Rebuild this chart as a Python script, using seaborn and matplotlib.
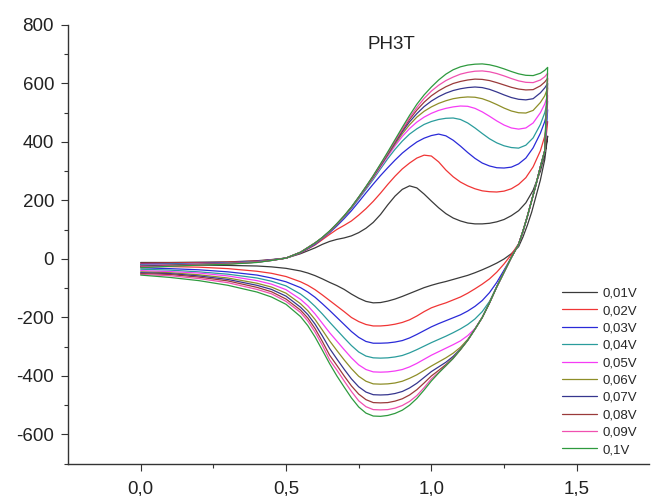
import pandas as pd
import matplotlib.pyplot as plt
import seaborn as sns

# Style
sns.set_style("ticks")
plt.rcParams['font.family'] = ['Liberation Sans', 'DejaVu Sans']
plt.rcParams['axes.unicode_minus'] = False

# Potential grids (V) for forward and reverse sweeps
v_fwd = [0.0, 0.1, 0.2, 0.3, 0.4, 0.45, 0.5, 0.55, 0.6,
         0.625, 0.65, 0.675, 0.7, 0.725, 0.75, 0.775, 0.8, 0.825, 0.85,
         0.875, 0.9, 0.925, 0.95, 0.975, 1.0, 1.025, 1.05, 1.075, 1.1,
         1.125, 1.15, 1.175, 1.2, 1.225, 1.25, 1.275, 1.3, 1.325, 1.35,
         1.375, 1.39, 1.4]
v_rev = [1.4, 1.39, 1.375, 1.36, 1.345, 1.33, 1.315, 1.3,
         1.275, 1.25, 1.225, 1.2, 1.175, 1.15, 1.125, 1.1, 1.075, 1.05,
         1.025, 1.0, 0.975, 0.95, 0.925, 0.9, 0.875, 0.85, 0.825, 0.8,
         0.775, 0.75, 0.725, 0.7, 0.675, 0.65, 0.625, 0.6, 0.575, 0.55,
         0.5, 0.45, 0.4, 0.3, 0.2, 0.1, 0.0]

rates = ['0,01V', '0,02V', '0,03V', '0,04V', '0,05V',
         '0,06V', '0,07V', '0,08V', '0,09V', '0,1V']
colors = ['#3a3a3a', '#f03535', '#2a2ad8', '#2a9c9c', '#f53cf5',
          '#8e8e28', '#36368e', '#9a3a3a', '#f050b0', '#2e9a3e']

# Current (forward sweep)
i_fwd_01 = [-12, -12, -11, -10, -6, -2, 3, 18, 38,
            50, 60, 67, 72, 79, 90, 105, 125, 152, 185, 215, 238, 250, 243, 222, 198,
            175, 155, 140, 130, 123, 120, 120, 122, 127, 135, 148, 165, 192, 235, 300,
            360, 420]
i_fwd_02 = [-15, -14, -13, -11, -7, -3, 3, 20, 48,
            66, 84, 101, 115, 130, 150, 172, 197, 225, 255, 283, 308, 328, 345, 355, 352,
            332, 304, 281, 263, 250, 240, 233, 230, 229, 232, 240, 255, 278, 315, 370,
            420, 470]
i_fwd_03 = [-18, -17, -15, -13, -8, -3, 3, 21, 50,
            70, 90, 113, 138, 165, 195, 226, 256, 285, 312, 338, 362, 382, 400, 413, 422,
            427, 421, 406, 386, 364, 344, 328, 318, 312, 311, 314, 325, 345, 380, 430,
            470, 510]
i_fwd_04 = [-20, -18, -16, -14, -9, -4, 3, 22, 52,
            71, 92, 116, 143, 173, 205, 238, 272, 308, 343, 375, 403, 427, 445, 460, 470,
            477, 481, 482, 477, 465, 448, 429, 411, 397, 387, 381, 379, 389, 414, 460,
            500, 540]
i_fwd_05 = [-22, -20, -17, -15, -10, -4, 3, 23, 53,
            72, 93, 118, 145, 175, 208, 242, 277, 314, 351, 387, 419, 446, 468, 485, 498,
            508, 515, 520, 523, 522, 515, 503, 488, 472, 458, 448, 444, 448, 465, 500,
            530, 560]
i_fwd_06 = [-24, -21, -18, -15, -10, -4, 3, 23, 54,
            72, 94, 119, 146, 176, 210, 244, 280, 318, 356, 393, 428, 459, 485, 505, 520,
            532, 541, 548, 552, 554, 553, 548, 539, 528, 516, 506, 500, 499, 508, 535,
            558, 585]
i_fwd_07 = [-25, -22, -19, -16, -11, -5, 3, 23, 54,
            73, 94, 119, 146, 176, 210, 245, 282, 320, 359, 398, 435, 469, 497, 521, 540,
            555, 567, 576, 582, 586, 588, 586, 580, 571, 561, 552, 546, 544, 548, 568,
            585, 600]
i_fwd_08 = [-27, -23, -20, -17, -11, -5, 3, 23, 55,
            73, 95, 120, 147, 177, 211, 246, 283, 322, 361, 401, 440, 477, 509, 536, 558,
            575, 589, 600, 607, 612, 615, 614, 610, 603, 595, 587, 581, 578, 579, 592,
            605, 618]
i_fwd_09 = [-28, -24, -20, -17, -11, -5, 3, 23, 55,
            73, 95, 120, 147, 177, 211, 247, 284, 323, 363, 404, 444, 483, 518, 549, 574,
            594, 610, 622, 632, 638, 642, 643, 640, 634, 626, 617, 609, 604, 603, 612,
            623, 635]
i_fwd_10 = [-30, -25, -21, -18, -12, -5, 3, 23, 55,
            74, 96, 121, 148, 178, 212, 248, 285, 325, 366, 408, 450, 491, 529, 561, 588,
            612, 632, 647, 657, 663, 666, 667, 664, 658, 650, 641, 633, 628, 627, 635,
            645, 655]

# Current (reverse sweep)
i_rev_01 = [420, 340, 270, 215, 160, 115, 75, 42,
            18, 0, -14, -26, -37, -47, -56, -63, -70, -77, -83, -90, -98, -108, -118,
            -128, -137, -144, -149, -150, -145, -134, -120, -104, -91, -80, -68, -57,
            -48, -41,
            -32, -27, -24, -22, -21, -20, -20]
i_rev_02 = [470, 370, 315, 255, 200, 145, 95, 52,
            15, -17, -45, -68, -86, -102, -117, -130, -140, -150, -158, -167, -180, -195,
            -208, -217, -223, -227, -229, -229, -224, -214, -200, -180, -161, -142, -123,
            -105, -90, -78,
            -60, -49, -42, -33, -28, -26, -25]
i_rev_03 = [510, 370, 315, 255, 200, 145, 95, 50,
            5, -38, -80, -115, -142, -162, -178, -191, -201, -211, -221, -232, -245, -258,
            -270, -279, -284, -287, -288, -288, -282, -268, -248, -224, -200, -176, -153,
            -131, -113, -98,
            -78, -65, -55, -44, -37, -33, -30]
i_rev_04 = [540, 370, 315, 255, 200, 145, 95, 50,
            5, -45, -95, -145, -180, -205, -224, -239, -252, -264, -275, -286, -298, -310,
            -321, -330, -335, -338, -339, -338, -332, -318, -296, -270, -243, -216, -188,
            -162, -139, -120,
            -92, -76, -65, -52, -44, -38, -35]
i_rev_05 = [560, 370, 315, 255, 200, 145, 95, 50,
            5, -45, -95, -150, -200, -238, -262, -280, -293, -305, -317, -329, -343, -357,
            -369, -378, -383, -386, -387, -386, -378, -362, -338, -310, -281, -252, -220,
            -188, -160, -138,
            -105, -86, -74, -58, -48, -43, -40]
i_rev_06 = [585, 370, 315, 255, 200, 145, 95, 50,
            5, -45, -95, -150, -200, -240, -275, -302, -322, -338, -352, -366, -381, -396,
            -408, -418, -424, -427, -428, -427, -418, -401, -375, -345, -313, -280, -243,
            -207, -177, -153,
            -117, -96, -83, -65, -54, -47, -44]
i_rev_07 = [600, 370, 315, 255, 200, 145, 95, 50,
            5, -45, -95, -150, -200, -240, -278, -308, -333, -353, -369, -385, -405, -425,
            -441, -453, -460, -464, -465, -464, -455, -437, -410, -377, -342, -306, -263,
            -223, -190, -165,
            -127, -104, -90, -70, -58, -50, -47]
i_rev_08 = [618, 370, 315, 255, 200, 145, 95, 50,
            5, -45, -95, -150, -200, -240, -278, -310, -338, -361, -381, -400, -424, -447,
            -465, -478, -486, -491, -492, -491, -481, -462, -434, -400, -364, -329, -282,
            -238, -202, -175,
            -137, -112, -97, -75, -62, -53, -50]
i_rev_09 = [635, 370, 315, 255, 200, 145, 95, 50,
            5, -45, -95, -150, -200, -240, -278, -310, -340, -365, -388, -410, -440, -467,
            -487, -501, -510, -515, -516, -515, -505, -485, -453, -417, -380, -345, -295,
            -250, -212, -183,
            -145, -119, -104, -81, -67, -57, -53]
i_rev_10 = [655, 370, 315, 255, 200, 145, 95, 50,
            5, -45, -95, -150, -200, -240, -278, -310, -340, -365, -390, -417, -448, -477,
            -500, -517, -528, -535, -538, -537, -527, -506, -475, -438, -400, -358, -312,
            -267, -228, -197,
            -155, -130, -113, -90, -74, -63, -55]

fwd = [i_fwd_01, i_fwd_02, i_fwd_03, i_fwd_04, i_fwd_05,
       i_fwd_06, i_fwd_07, i_fwd_08, i_fwd_09, i_fwd_10]
rev = [i_rev_01, i_rev_02, i_rev_03, i_rev_04, i_rev_05,
       i_rev_06, i_rev_07, i_rev_08, i_rev_09, i_rev_10]

# Build long table, one closed loop per scan rate
frames = []
for r, f, b in zip(rates, fwd, rev):
    frames.append(pd.DataFrame({'E': v_fwd + v_rev, 'I': f + b, 'rate': r}))
df = pd.concat(frames, ignore_index=True)

fig = plt.figure(figsize=(6.53, 4.96), dpi=100)
ax = fig.add_axes([0.1041, 0.0651, 0.8904, 0.8845])

sns.lineplot(data=df, x='E', y='I', hue='rate', hue_order=rates,
             palette=colors, sort=False, estimator=None, lw=0.9, ax=ax)

ax.set_xlim(-0.25, 1.75)
ax.set_ylim(-700, 800)
ax.set_xticks([0.0, 0.5, 1.0, 1.5], ['0,0', '0,5', '1,0', '1,5'])
ax.set_xticks([0.25, 0.75, 1.25], minor=True)
ax.set_yticks(range(-600, 801, 200))
ax.set_yticks(range(-700, 800, 200), minor=True)
ax.set_xlabel('')
ax.set_ylabel('')
sns.despine(ax=ax)
for s in ['left', 'bottom']:
    ax.spines[s].set_linewidth(1.0)
    ax.spines[s].set_color('#333333')
ax.tick_params(which='major', direction='out', length=5, width=0.8,
               color='#333333', labelsize=13.5, labelcolor='#222222', pad=5)
ax.tick_params(axis='x', which='major', pad=7)
ax.tick_params(which='minor', direction='out', length=3, width=0.8, color='#333333')

ax.text(0.863, 735, 'PH3T', ha='center', va='center', fontsize=13.5, color='#222222')

handles, labels = ax.get_legend_handles_labels()
ax.legend(handles, labels, loc='upper left', bbox_to_anchor=(0.861, 0.4206),
          bbox_transform=fig.transFigure, frameon=False, fontsize=9.5,
          handlelength=2.65, handletextpad=0.4, labelspacing=0.39,
          borderpad=0, borderaxespad=0)

fig.savefig('out.png', dpi=100)
